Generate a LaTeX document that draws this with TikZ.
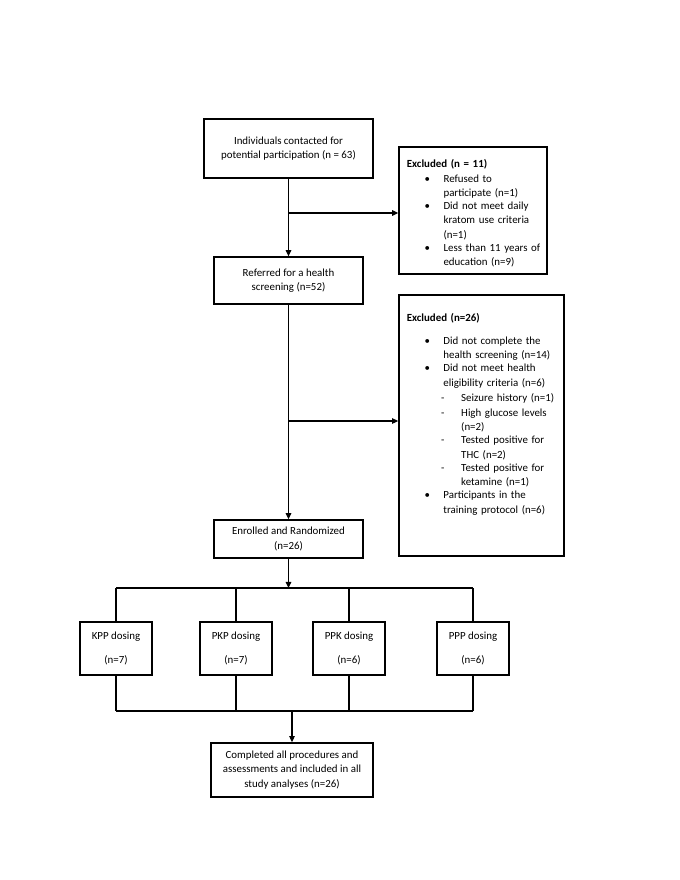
\documentclass[tikz,border=0pt]{standalone}
\usepackage{fontspec}
\setmainfont{Carlito}
\usetikzlibrary{arrows.meta, positioning}
\newcommand{\flowfont}{\fontsize{9.8}{13}\selectfont}
\newcommand{\bitem}[1]{\par\hspace*{16pt}\makebox[17pt][l]{\textbullet}%
  \parbox[t]{100pt}{\raggedright #1\strut}}
\newcommand{\sitem}[1]{\par\hspace*{31pt}\makebox[18pt][l]{-}%
  \parbox[t]{84pt}{\raggedright #1\strut}}
\tikzset{
  box/.style={draw, line width=1.5pt, align=center, inner sep=2pt, font=\flowfont},
  exclbox/.style={draw, line width=1.5pt, align=left, inner xsep=7pt, font=\flowfont},
  dosebox/.style={box, minimum width=65pt, minimum height=48pt},
  link/.style={line width=1pt},
  arr/.style={link, -{Triangle[length=5.5pt, width=5pt]}}
}

\begin{document}
\begin{tikzpicture}[x=0.9pt, y=-0.9pt]
  \useasboundingbox (0,0) rectangle (680,880);

  % main column
  \node[box, minimum width=152pt, minimum height=53pt] (contact) at (288.5,148.5)
    {Individuals contacted for\\potential participation (n = 63)};
  \node[box, minimum width=134pt, minimum height=42pt] (screen) at (288.5,280.5)
    {Referred for a health\\screening (n=52)};
  \node[box, minimum width=134pt, minimum height=34pt] (enrol) at (288.5,539)
    {Enrolled and Randomized\\(n=26)};
  \node[box, minimum width=146pt, minimum height=48.6pt] (done) at (292,770)
    {Completed all procedures and\\assessments and included in all\\study analyses (n=26)};

  % exclusions
  \node[exclbox, text width=119pt, minimum height=111pt] (excl1) at (473,210.5)
    {\rule{0pt}{15pt}\textbf{Excluded (n = 11)}
     \bitem{Refused to\\participate (n=1)}
     \bitem{Did not meet daily\\kratom use criteria\\(n=1)}
     \bitem{Less than 11 years of\\education (n=9)}};
  \node[exclbox, text width=134.5pt, minimum height=235pt] (excl2) at (481.5,425.5)
    {\textbf{Excluded (n=26)}\par\vspace{7.5pt}
     \bitem{Did not complete the\\health screening (n=14)}
     \bitem{Did not meet health\\eligibility criteria (n=6)}
     \sitem{Seizure history (n=1)}
     \sitem{High glucose levels\\(n=2)}
     \sitem{Tested positive for\\THC (n=2)}
     \sitem{Tested positive for\\ketamine (n=1)}
     \bitem{Participants in the\\training protocol (n=6)}\par\rule{0pt}{17pt}};

  % dosing arms
  \node[dosebox] (kpp) at (116,648.5) {KPP dosing\\[8pt](n=7)};
  \node[dosebox] (pkp) at (236,648.5) {PKP dosing\\[8pt](n=7)};
  \node[dosebox] (ppk) at (349,648.5) {PPK dosing\\[8pt](n=6)};
  \node[dosebox] (ppp) at (473,648.5) {PPP dosing\\[8pt](n=6)};

  % connectors
  \coordinate (split1) at (288.5,213);
  \coordinate (split2) at (288.5,421);
  \coordinate (fork) at (288.5,588);
  \coordinate (join) at (292,711);
  \draw[arr] (contact) -- (screen);
  \draw[arr] (split1) -- (split1 -| excl1.west);
  \draw[arr] (screen) -- (enrol);
  \draw[arr] (split2) -- (split2 -| excl2.west);
  \draw[arr] (enrol) -- (fork);
  \draw[link] (kpp |- fork) -- (ppp |- fork);
  \draw[link] (kpp |- join) -- (ppp |- join);
  \foreach \arm in {kpp, pkp, ppk, ppp} {
    \draw[link] (\arm |- fork) -- (\arm.north);
    \draw[link] (\arm.south) -- (\arm |- join);
  }
  \draw[arr] (join) -- (done);
\end{tikzpicture}
\end{document}
